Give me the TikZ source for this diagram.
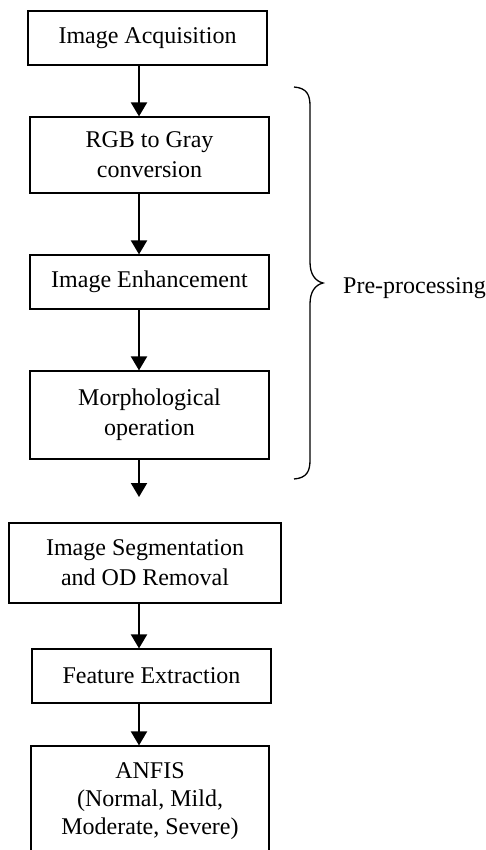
\documentclass[tikz,border=0pt]{standalone}
\usepackage{fontspec}
\setmainfont{Liberation Serif}
\usetikzlibrary{arrows.meta}
\begin{document}
\begin{tikzpicture}[x=1pt,y=-1pt,
  stepbox/.style={draw, line width=1.2pt, inner sep=0pt, align=center,
    font=\fontsize{24}{30}\selectfont},
  flow/.style={line width=2pt, -{Triangle[width=16pt,length=14pt]}},
  bracepath/.style={line width=1.3pt}]
\clip (0,0) rectangle (486,850);
\fill[white] (0,0) rectangle (486,850);
\coordinate (ax) at (139,0);
\node[stepbox, minimum width=239pt, minimum height=54pt] (b1) at (147.5,38) {Image Acquisition};
\node[stepbox, minimum width=239pt, minimum height=76pt] (b2) at (149.5,155) {RGB to Gray\\conversion};
\node[stepbox, minimum width=239pt, minimum height=54pt] (b3) at (149.5,282) {Image Enhancement};
\node[stepbox, minimum width=239pt, minimum height=88pt] (b4) at (149.5,415) {Morphological\\operation};
\coordinate (a4end) at (139,497);
\node[stepbox, minimum width=272pt, minimum height=80pt] (b5) at (145,563) {Image Segmentation\\and OD Removal};
\node[stepbox, minimum width=239pt, minimum height=54pt] (b6) at (151.5,676) {Feature Extraction};
\node[stepbox, minimum width=238pt, minimum height=110pt, font=\fontsize{24}{28}\selectfont] (b7) at (150,801) {ANFIS\\(Normal, Mild,\\Moderate, Severe)};
\draw[flow] (b1.south -| ax) -- (b2.north -| ax);
\draw[flow] (b2.south -| ax) -- (b3.north -| ax);
\draw[flow] (b3.south -| ax) -- (b4.north -| ax);
\draw[flow] (b4.south -| ax) -- (a4end);
\draw[flow] (b5.south -| ax) -- (b6.north -| ax);
\draw[flow] (b6.south -| ax) -- (b7.north -| ax);
\draw[bracepath] (294,87) .. controls (307,88) and (310,95) .. (310,106) -- (310,262)
  .. controls (310,274) and (315,281) .. (323,283)
  .. controls (315,285) and (310,292) .. (310,304) -- (310,460)
  .. controls (310,471) and (307,478) .. (294,479);
\node[anchor=base west, inner sep=0pt, font=\fontsize{24}{30}\selectfont] (pre) at (343,293) {Pre-processing};
\end{tikzpicture}
\end{document}
